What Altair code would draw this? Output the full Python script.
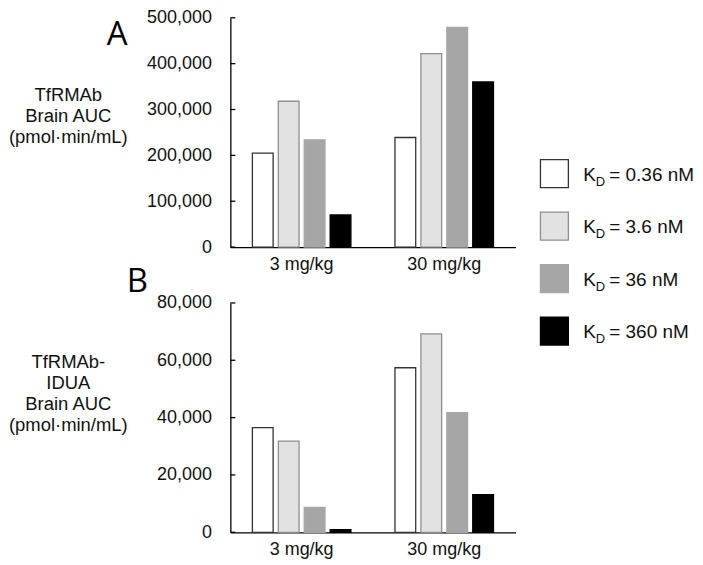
import altair as alt
import pandas as pd

# ---------------- data ----------------
doses = ["3 mg/kg", "30 mg/kg"]
kd_nm = ["0.36", "3.6", "36", "360"]
tfrmab_3 = [205000, 318000, 234000, 70000]
tfrmab_30 = [239000, 422000, 479000, 360000]
idua_3 = [36500, 31800, 8700, 900]
idua_30 = [57400, 69200, 41700, 13100]
ticks_a = [0, 100000, 200000, 300000, 400000, 500000]
ticks_b = [0, 20000, 40000, 60000, 80000]
title_a = ["TfRMAb", "Brain AUC", "(pmol·min/mL)"]
title_b = ["TfRMAb-", "IDUA", "Brain AUC", "(pmol·min/mL)"]
fills = ["#ffffff", "#e2e2e2", "#a6a6a6", "#000000"]
strokes = ["#333333", "#8f8f8f", "#a6a6a6", "#000000"]

FONT = "Liberation Sans"
TXT = "#111111"


def bars_df(v3, v30):
    rows = []
    for dose, vals in zip(doses, [v3, v30]):
        for kd, v in zip(kd_nm, vals):
            rows.append({"dose": dose, "kd": kd, "value": v})
    return pd.DataFrame(rows)


fill_scale = alt.Scale(domain=kd_nm, range=fills)
stroke_scale = alt.Scale(domain=kd_nm, range=strokes)


def panel(df, ticks, title, title_y, letter, letter_x, letter_y):
    y_scale = alt.Scale(domain=[ticks[0], ticks[-1]], nice=False, zero=True)
    y_axis = alt.Axis(values=ticks, labelExpr="format(datum.value, ',')",
                      title=title, ticks=False,
                      tickSize=0, labelPadding=19, labelFontSize=18,
                      labelFont=FONT, labelColor=TXT,
                      titleAngle=0, titleAlign="center", titleBaseline="top",
                      titleX=-163, titleY=title_y, titleFontSize=18.5,
                      titleFontWeight="normal", titleFont=FONT,
                      titleLineHeight=21, titleColor=TXT)
    bars = alt.Chart(df).mark_bar(strokeWidth=1.3).encode(
        x=alt.X(
            "dose:N", sort=doses,
            scale=alt.Scale(paddingInner=0, paddingOuter=0),
            axis=alt.Axis(title=None, labelAngle=0, ticks=False, tickSize=0,
                          labelFontSize=18, labelPadding=8, labelFont=FONT,
                          labelColor=TXT),
        ),
        xOffset=alt.XOffset("kd:N", sort=kd_nm,
                            scale=alt.Scale(paddingInner=0.2, paddingOuter=0.85)),
        y=alt.Y("value:Q", scale=y_scale, axis=y_axis, title=title),
        fill=alt.Fill("kd:N", scale=fill_scale, legend=None),
        stroke=alt.Stroke("kd:N", scale=stroke_scale, legend=None),
    )
    tickmarks = alt.Chart(pd.DataFrame({"value": ticks})).mark_rule(
        color="black", strokeWidth=1.3
    ).encode(
        y=alt.Y("value:Q", scale=y_scale, axis=y_axis, title=title),
        x=alt.value(0), x2=alt.value(5),
    )
    lab = alt.Chart(pd.DataFrame({"l": [letter]})).mark_text(
        align="left", baseline="alphabetic", fontSize=33, font="Open Sans",
        color="black"
    ).encode(text="l:N", x=alt.value(letter_x), y=alt.value(letter_y))
    return alt.layer(bars, tickmarks, lab)


panel_a = panel(bars_df(tfrmab_3, tfrmab_30), ticks_a, title_a, 68, "A", -124, 27)
panel_b = panel(bars_df(idua_3, idua_30), ticks_b, title_b, 50, "B", -104, -11)

# ---------------- legend (drawn beside panel A) ----------------
leg_df = pd.DataFrame({"kd": kd_nm, "rest": ["= " + k + " nM" for k in kd_nm]})
leg_y = alt.Y("kd:N", sort=kd_nm, scale=alt.Scale(range=[156.3, 314.2], padding=0),
              axis=None)
leg_base = alt.Chart(leg_df)
sq = leg_base.mark_square(size=784, strokeWidth=1.3, opacity=1).encode(
    x=alt.value(325), y=leg_y,
    fill=alt.Fill("kd:N", scale=fill_scale, legend=None),
    stroke=alt.Stroke("kd:N", scale=stroke_scale, legend=None),
)
k_txt = leg_base.mark_text(align="left", baseline="alphabetic", fontSize=19,
                           dy=7, font=FONT, color=TXT).encode(
    x=alt.value(354), y=leg_y, text=alt.value("K"))
d_txt = leg_base.mark_text(align="left", baseline="alphabetic", fontSize=13,
                           dy=12, font=FONT, color=TXT).encode(
    x=alt.value(366.5), y=leg_y, text=alt.value("D"))
rest_txt = leg_base.mark_text(align="left", baseline="alphabetic", fontSize=19,
                              dy=7, font=FONT, color=TXT).encode(
    x=alt.value(380), y=leg_y, text="rest:N")
legend = alt.layer(sq, k_txt, d_txt, rest_txt)

chart_a = alt.layer(panel_a, legend).resolve_scale(
    y="independent").properties(width=286, height=230)
chart_b = panel_b.properties(width=286, height=230)

chart = alt.vconcat(chart_a, chart_b, spacing=56, bounds="flush").properties(
    padding={"left": 0, "top": 0, "right": 0, "bottom": 0}
).configure_view(stroke=None).configure_axis(
    grid=False, domainColor="black", domainWidth=1.3
)

chart.save("out.html", embed_options={"renderer": "svg", "actions": False})
